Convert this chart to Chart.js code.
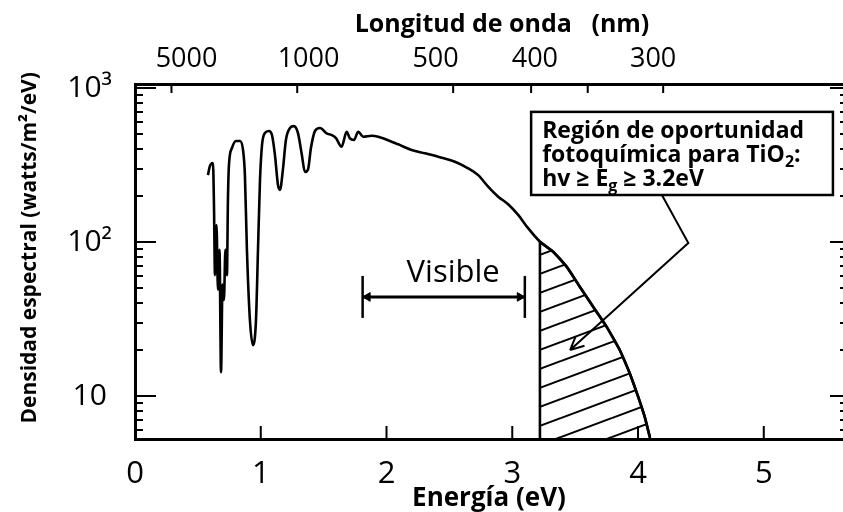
<!DOCTYPE html>
<html>
<head>
<meta charset="utf-8">
<script src="https://cdn.jsdelivr.net/npm/chart.js@4.4.0/dist/chart.umd.min.js"></script>
<style>
  html, body { margin: 0; padding: 0; background: #fff; }
  #wrap { width: 843px; height: 512px; position: relative; }
</style>
</head>
<body>
<div id="wrap"><canvas id="spectrum"></canvas></div>
<script>
// solar spectrum, energy in eV and spectral density in W/m2/eV
const ENERGY = [0.58, 0.596, 0.62, 0.628, 0.636, 0.648, 0.66, 0.672, 0.684, 0.696,
  0.707, 0.719, 0.731, 0.739, 0.747, 0.771, 0.803, 0.835, 0.859, 0.874,
  0.89, 0.914, 0.938, 0.962, 0.978, 0.994, 1.01, 1.033, 1.065, 1.089,
  1.113, 1.137, 1.153, 1.176, 1.2, 1.232, 1.264, 1.296, 1.327, 1.351,
  1.375, 1.399, 1.431, 1.471, 1.524, 1.564, 1.598, 1.643, 1.683, 1.709,
  1.741, 1.775, 1.815, 1.882, 1.934, 1.987, 2.093, 2.2, 2.305, 2.438,
  2.544, 2.649, 2.729, 2.808, 2.888, 2.967, 3.047, 3.126, 3.22, 3.325,
  3.432, 3.537, 3.643, 3.75, 3.855, 3.935, 4.001, 4.054, 4.094];
const DENSITY = [272, 312, 326, 174, 61, 129, 49, 89, 14.3, 53,
  42, 89, 61, 187, 316, 408, 453, 453, 396, 272,
  89, 31, 21.4, 31, 89, 253, 426, 510, 526, 495,
  367, 234, 218, 294, 460, 550, 566, 510, 367, 285,
  294, 408, 526, 550, 508, 495, 473, 416, 520, 471,
  460, 520, 483, 490, 483, 467, 431, 396, 377, 353,
  332, 301, 272, 229, 197, 176, 150, 123, 100.5, 86.5,
  69.2, 51.3, 38, 28.2, 19.9, 14, 9.9, 7.3, 5.4];

const GAP_ENERGY = 3.22;            // TiO2 edge, left side of the hatched area
const VISIBLE_RANGE = [1.81, 3.10];
const VISIBLE_LEVEL = 44;

const X_TICKS = [0, 1, 2, 3, 4, 5];
const Y_TICKS = [10, 100, 1000];
const Y_TICK_LABELS = ['10', '10²', '10³'];
const WAVELENGTH_LABELS = ['5000', '1000', '500', '400', '300'];
const WAVELENGTH_LABEL_E = [0.41, 1.38, 2.39, 3.18, 4.12];
const WAVELENGTH_TICK_E = [0.29, 1.29, 2.53, 3.15, 3.60, 4.20];

const X_MAX = 5.63;
const Y_MIN = 5.26;
const Y_MAX = 1062;

// annotation anchors in data units
const BOX_E = [3.15, 5.55];
const BOX_V = [700, 202];
const POINTER = [[4.19, 202], [4.40, 98.6], [3.46, 19.9]];
const VISIBLE_LABEL_AT = [2.53, 63];

const FONT = "'Open Sans', 'DejaVu Sans', sans-serif";
Chart.defaults.font.family = FONT;
Chart.defaults.color = '#000';

const curvePoints = ENERGY.map((e, i) => ({x: e, y: DENSITY[i]}));
const hatchPoints = [{x: GAP_ENERGY, y: Y_MIN}]
  .concat(curvePoints.filter(p => p.x >= GAP_ENERGY))
  .concat([{x: ENERGY[ENERGY.length - 1], y: Y_MIN}]);

const canvas = document.getElementById('spectrum');

function hatchPattern() {
  const c = document.createElement('canvas');
  c.width = 51; c.height = 19;
  const g = c.getContext('2d');
  g.strokeStyle = '#000';
  g.lineWidth = 2;
  g.beginPath();
  [-19, 0, 19].forEach(o => { g.moveTo(0, 19 + o); g.lineTo(51, o); });
  g.stroke();
  return canvas.getContext('2d').createPattern(c, 'repeat');
}

function drawRuns(ctx, runs, x0, y0, size) {
  let cx = x0;
  runs.forEach(([t, sub]) => {
    ctx.font = `bold ${sub ? Math.round(size * 0.68) : size}px ${FONT}`;
    ctx.fillText(t, cx, y0 + (sub ? 5 : 0));
    cx += ctx.measureText(t).width;
  });
}

const frameMarks = {
  id: 'frameMarks',
  afterDatasetsDraw(chart) {
    const {ctx, chartArea: a, scales: {x, y}} = chart;
    const P = (e, v) => [x.getPixelForValue(e), y.getPixelForValue(v)];
    ctx.save();
    ctx.strokeStyle = '#000';
    ctx.fillStyle = '#000';

    // inward tick marks on all sides
    ctx.lineWidth = 2;
    ctx.beginPath();
    for (let d = 1; d <= 1000; d *= 10) {
      for (let m = 1; m < 10; m++) {
        const v = d * m;
        if (v < y.min || v > y.max) continue;
        const py = Math.round(y.getPixelForValue(v));
        const major = m === 1;
        ctx.moveTo(a.left, py); ctx.lineTo(a.left + (major ? 21 : 8), py);
        ctx.moveTo(a.right, py); ctx.lineTo(a.right - (major ? 13 : 3), py);
      }
    }
    X_TICKS.forEach(v => {
      if (v === 0) return;
      const px = x.getPixelForValue(v);
      ctx.moveTo(px, a.bottom); ctx.lineTo(px, a.bottom - 13);
    });
    WAVELENGTH_TICK_E.forEach(v => {
      const px = x.getPixelForValue(v);
      ctx.moveTo(px, a.top); ctx.lineTo(px, a.top + 9);
    });
    ctx.stroke();

    // "Visible" label
    ctx.font = `31px ${FONT}`;
    ctx.textAlign = 'center';
    ctx.textBaseline = 'middle';
    const [vx, vy] = P(VISIBLE_LABEL_AT[0], VISIBLE_LABEL_AT[1]);
    ctx.fillText('Visible', vx, vy);

    // annotation box
    const [bx0, by0] = P(BOX_E[0], BOX_V[0]);
    const [bx1, by1] = P(BOX_E[1], BOX_V[1]);
    ctx.fillStyle = '#fff';
    ctx.fillRect(bx0, by0, bx1 - bx0, by1 - by0);
    ctx.fillStyle = '#000';
    ctx.lineWidth = 2.5;
    ctx.strokeRect(bx0, by0, bx1 - bx0, by1 - by0);
    ctx.textAlign = 'left';
    ctx.textBaseline = 'alphabetic';
    const tx = bx0 + 11;
    drawRuns(ctx, [['Región de oportunidad']], tx, by0 + 26, 23);
    drawRuns(ctx, [['fotoquímica para TiO'], ['2', true], [':']], tx, by0 + 50, 23);
    drawRuns(ctx, [['hv ≥ E'], ['g', true], [' ≥ 3.2eV']], tx, by0 + 74, 23);

    // pointer with open arrowhead
    const pts = POINTER.map(p => P(p[0], p[1]));
    ctx.lineWidth = 2;
    ctx.beginPath();
    ctx.moveTo(pts[0][0], pts[0][1]);
    pts.slice(1).forEach(p => ctx.lineTo(p[0], p[1]));
    const [tipX, tipY] = pts[2];
    const ang = Math.atan2(pts[1][1] - tipY, pts[1][0] - tipX);
    [-0.45, 0.45].forEach(da => {
      ctx.moveTo(tipX, tipY);
      ctx.lineTo(tipX + 15 * Math.cos(ang + da), tipY + 15 * Math.sin(ang + da));
    });
    ctx.stroke();
    ctx.restore();
  }
};

new Chart(canvas, {
  type: 'line',
  data: {
    datasets: [
      {
        label: 'Espectro solar',
        data: curvePoints,
        borderColor: '#000',
        borderWidth: 2.6,
        pointRadius: 0,
        cubicInterpolationMode: 'monotone',
        fill: false
      },
      {
        label: 'Región TiO2',
        data: hatchPoints,
        borderColor: '#000',
        borderWidth: 2.6,
        backgroundColor: hatchPattern(),
        pointRadius: 0,
        tension: 0,
        fill: 'start'
      },
      {
        label: 'Visible',
        data: VISIBLE_RANGE.map(e => ({x: e, y: VISIBLE_LEVEL})),
        borderColor: '#000',
        borderWidth: 3,
        pointStyle: 'line',
        pointRotation: 90,
        pointRadius: 21,
        pointBorderWidth: 2.5,
        pointBorderColor: '#000',
        fill: false
      },
      {
        label: 'Visible arrows',
        data: [{x: VISIBLE_RANGE[0] + 0.04, y: VISIBLE_LEVEL}, {x: VISIBLE_RANGE[1] - 0.04, y: VISIBLE_LEVEL}],
        showLine: false,
        pointStyle: 'triangle',
        pointRotation: [-90, 90],
        pointRadius: 5,
        pointBackgroundColor: '#000',
        pointBorderColor: '#000',
        pointBorderWidth: 1
      }
    ]
  },
  options: {
    responsive: true,
    maintainAspectRatio: false,
    animation: false,
    events: [],
    layout: {padding: 0, autoPadding: false},
    plugins: {
      legend: {display: false},
      tooltip: {enabled: false}
    },
    scales: {
      x: {
        type: 'linear',
        position: 'bottom',
        min: 0,
        max: X_MAX,
        afterBuildTicks: s => { s.ticks = X_TICKS.map(v => ({value: v})); },
        afterFit: s => { s.height = 73; },
        grid: {display: false, drawTicks: false},
        border: {display: true, color: '#000', width: 3},
        ticks: {
          color: '#000',
          font: {size: 31},
          padding: 17,
          autoSkip: false,
          maxRotation: 0
        },
        title: {
          display: true,
          text: 'Energía (eV)',
          color: '#000',
          font: {size: 26, weight: 'bold', lineHeight: 1.0},
          padding: 0
        }
      },
      x2: {
        type: 'linear',
        position: 'top',
        min: 0,
        max: X_MAX,
        afterBuildTicks: s => { s.ticks = WAVELENGTH_LABEL_E.map(v => ({value: v})); },
        afterFit: s => { s.height = 84; },
        grid: {display: false, drawTicks: false},
        border: {display: true, color: '#000', width: 3},
        ticks: {
          color: '#000',
          font: {size: 27},
          padding: 8,
          autoSkip: false,
          maxRotation: 0,
          callback: (v, i) => WAVELENGTH_LABELS[i]
        },
        title: {
          display: true,
          text: '    Longitud de onda   (nm)',
          color: '#000',
          font: {size: 25, weight: 'bold'},
          padding: {top: 10, bottom: 0}
        }
      },
      y: {
        type: 'logarithmic',
        min: Y_MIN,
        max: Y_MAX,
        afterBuildTicks: s => { s.ticks = Y_TICKS.map(v => ({value: v})); },
        afterFit: s => { s.width = 135; },
        grid: {display: false, drawTicks: false},
        border: {display: true, color: '#000', width: 3},
        ticks: {
          color: '#000',
          font: {size: 30},
          padding: 23,
          crossAlign: 'center',
          autoSkip: false,
          callback: (v, i) => Y_TICK_LABELS[i]
        },
        title: {
          display: true,
          text: '     Densidad espectral (watts/m²/eV)',
          color: '#000',
          font: {size: 21, weight: 'bold'},
          padding: {top: 17, bottom: 0}
        }
      }
    }
  },
  plugins: [frameMarks]
});
</script>
</body>
</html>
